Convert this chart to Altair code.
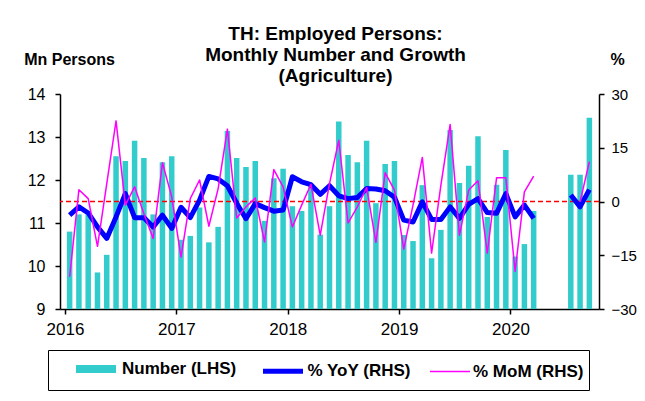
import altair as alt
import pandas as pd

# ---- data ----
years = [2016, 2017, 2018, 2019, 2020]
months = [f"{y}-{m:02d}" for y in years for m in range(1, 13)][:57]   # Jan 2016 .. Sep 2020

number_mn = [10.80, 11.20, 11.20, 9.85, 10.26, 12.55, 12.44, 12.91, 12.51, 11.20, 12.41, 12.55,
             10.61, 10.70, 11.36, 10.55, 10.91, 13.14, 12.51, 12.30, 12.44, 11.05, 12.04, 12.26,
             11.39, 11.28, 11.90, 10.73, 11.39, 13.36, 12.58, 12.41, 12.91, 11.46, 12.37, 12.44,
             10.72, 10.58, 11.88, 10.18, 10.84, 13.16, 11.93, 12.33, 13.02, 11.14, 11.89, 12.70,
             10.22, 10.51, 11.28, None, None, None, 12.12, 12.12, 13.45]

yoy_pct = [-3.8, -1.5, -3.2, -7.1, -10.3, -4.3, 2.2, -4.5, -4.5, -7.1, -3.8, -7.5,
           -1.6, -4.5, 0.4, 7.0, 6.3, 4.4, -0.5, -4.8, -0.6, -1.7, -2.7, -2.4,
           6.9, 5.5, 4.7, 2.0, 4.4, 1.6, 0.8, 1.1, 3.6, 3.5, 3.0, 1.2,
           -5.2, -5.7, -0.1, -5.0, -5.0, -1.5, -4.7, -0.8, 0.8, -3.1, -3.3, 2.2,
           -4.3, -1.0, -4.7, None, None, None, 1.8, -1.5, 3.3]

mom_pct = [-21.0, 3.3, 0.8, -12.5, 5.0, 22.5, -1.0, 4.1, -3.4, -10.3, 10.8, 1.3,
           -15.5, 0.8, 6.0, -6.9, 3.6, 20.2, -4.6, -1.5, 1.0, -11.3, 8.9, 4.1,
           -7.1, -1.0, 4.8, -9.4, 5.0, 17.1, -6.0, -1.5, 3.9, -11.4, 8.0, 3.2,
           -13.3, -1.0, 12.3, -14.4, 4.5, 21.5, -9.4, 3.2, 5.8, -14.4, 6.6, 6.6,
           -19.5, 2.7, 7.1, None, None, None, None, -0.1, 11.1]

series_names = ["Number (LHS)", "% YoY (RHS)", "% MoM (RHS)"]
series_colors = ["#33CCCC", "#0000FF", "#FF00FF"]
series_widths = [8, 5, 1.5]
year_ticks = [0, 12, 24, 36, 48]
left_ticks = [9, 10, 11, 12, 13, 14]
right_ticks = [-30, -15, 0, 15, 30]
zero_line = [0]

FONT = "Liberation Sans"

# ---- tables ----
bars_df = pd.DataFrame({
    "month": months,
    "pos": [i + 0.5 for i in range(len(months))],
    "number": number_mn,
}).dropna()


def line_table(values, name):
    rows, seg = [], 0
    for i, v in enumerate(values):
        if v is None:
            seg += 1
            continue
        rows.append({"month": months[i], "pos": i + 0.5, "value": v,
                     "series": name, "seg": f"{name}-{seg}"})
    return pd.DataFrame(rows)


yoy_df = line_table(yoy_pct, series_names[1])
mom_df = line_table(mom_pct, series_names[2])
zero_df = pd.DataFrame({"zero": zero_line})

# ---- scales / axes ----
x_scale = alt.Scale(domain=[0, len(months)], nice=False, zero=False)
x_axis = alt.Axis(values=year_ticks, labelExpr="'' + (2016 + datum.value / 12)",
                  title=None, grid=False, tickSize=5, labelPadding=7,
                  labelFontSize=17, labelColor="black", domainColor="black",
                  tickColor="black", domainWidth=1.5, tickWidth=1.5)
left_scale = alt.Scale(domain=[9, 14], nice=False, zero=False)
left_axis = alt.Axis(values=left_ticks, title="Mn Persons", titleAngle=0,
                     titleX=9, titleY=-35, titleAlign="center", titleBaseline="middle",
                     titleFontSize=16, titleFontWeight="bold", titleColor="black",
                     grid=False, tickSize=5, labelPadding=10, labelFontSize=16,
                     labelColor="black", domainColor="black", tickColor="black",
                     domainWidth=1.5, tickWidth=1.5)
right_scale = alt.Scale(domain=[-30, 30], nice=False, zero=False)
right_axis = alt.Axis(values=right_ticks, orient="right", title="%", titleAngle=0,
                      titleX=18, titleY=-35, titleAlign="center", titleBaseline="middle",
                      titleFontSize=16, titleFontWeight="bold", titleColor="black",
                      grid=False, tickSize=5, labelPadding=7, labelFontSize=15,
                      labelColor="black", domainColor="black", tickColor="black",
                      domainWidth=1.5, tickWidth=1.5)

legend = alt.Legend(title=" ", titleOrient="left", titleFontSize=1, titlePadding=29,
                    orient="none", legendX=-12, legendY=256,
                    direction="horizontal", symbolType="M-2,0H2", symbolSize=400,
                    labelFontSize=17, labelFontWeight="bold", labelColor="black",
                    labelOffset=12, columnPadding=15.5, padding=5, strokeColor="black",
                    labelLimit=400)
stroke_scale = alt.Scale(domain=series_names, range=series_colors)
width_scale = alt.Scale(type="ordinal", domain=series_names, range=series_widths)

# ---- layers ----
bars = alt.Chart(bars_df).mark_bar(size=5.5, color=series_colors[0]).encode(
    x=alt.X("pos:Q", scale=x_scale, axis=x_axis),
    y=alt.Y("number:Q", scale=left_scale, axis=left_axis),
    y2=alt.datum(9),
)

zero_rule = alt.Chart(zero_df).mark_rule(color="#FF0000", strokeDash=[5, 3], strokeWidth=1.5).encode(
    y=alt.Y("zero:Q", scale=right_scale, axis=right_axis),
)


def line_layer(df):
    return alt.Chart(df).mark_line(strokeJoin="round").encode(
        x=alt.X("pos:Q", scale=x_scale),
        y=alt.Y("value:Q", scale=right_scale, axis=right_axis),
        stroke=alt.Stroke("series:N", scale=stroke_scale, legend=legend),
        strokeWidth=alt.StrokeWidth("series:N", scale=width_scale, legend=legend),
        detail="seg:N",
        order="pos:Q",
    )


right_layers = alt.layer(zero_rule, line_layer(yoy_df), line_layer(mom_df))

chart = alt.layer(bars, right_layers).resolve_scale(y="independent").properties(
    width=539,
    height=215,
    autosize=alt.AutoSizeParams(type="none"),
    padding={"left": 52, "top": 86, "right": 38, "bottom": 84},
    title=alt.TitleParams(
        text=["TH: Employed Persons:", "Monthly Number and Growth", "(Agriculture)"],
        fontSize=19, fontWeight="bold", color="black", anchor="middle",
        lineHeight=21, dx=6, dy=43, offset=8,
    ),
).configure(font=FONT).configure_view(stroke=None)

chart.save("out.html", embed_options={"renderer": "svg", "actions": False})
